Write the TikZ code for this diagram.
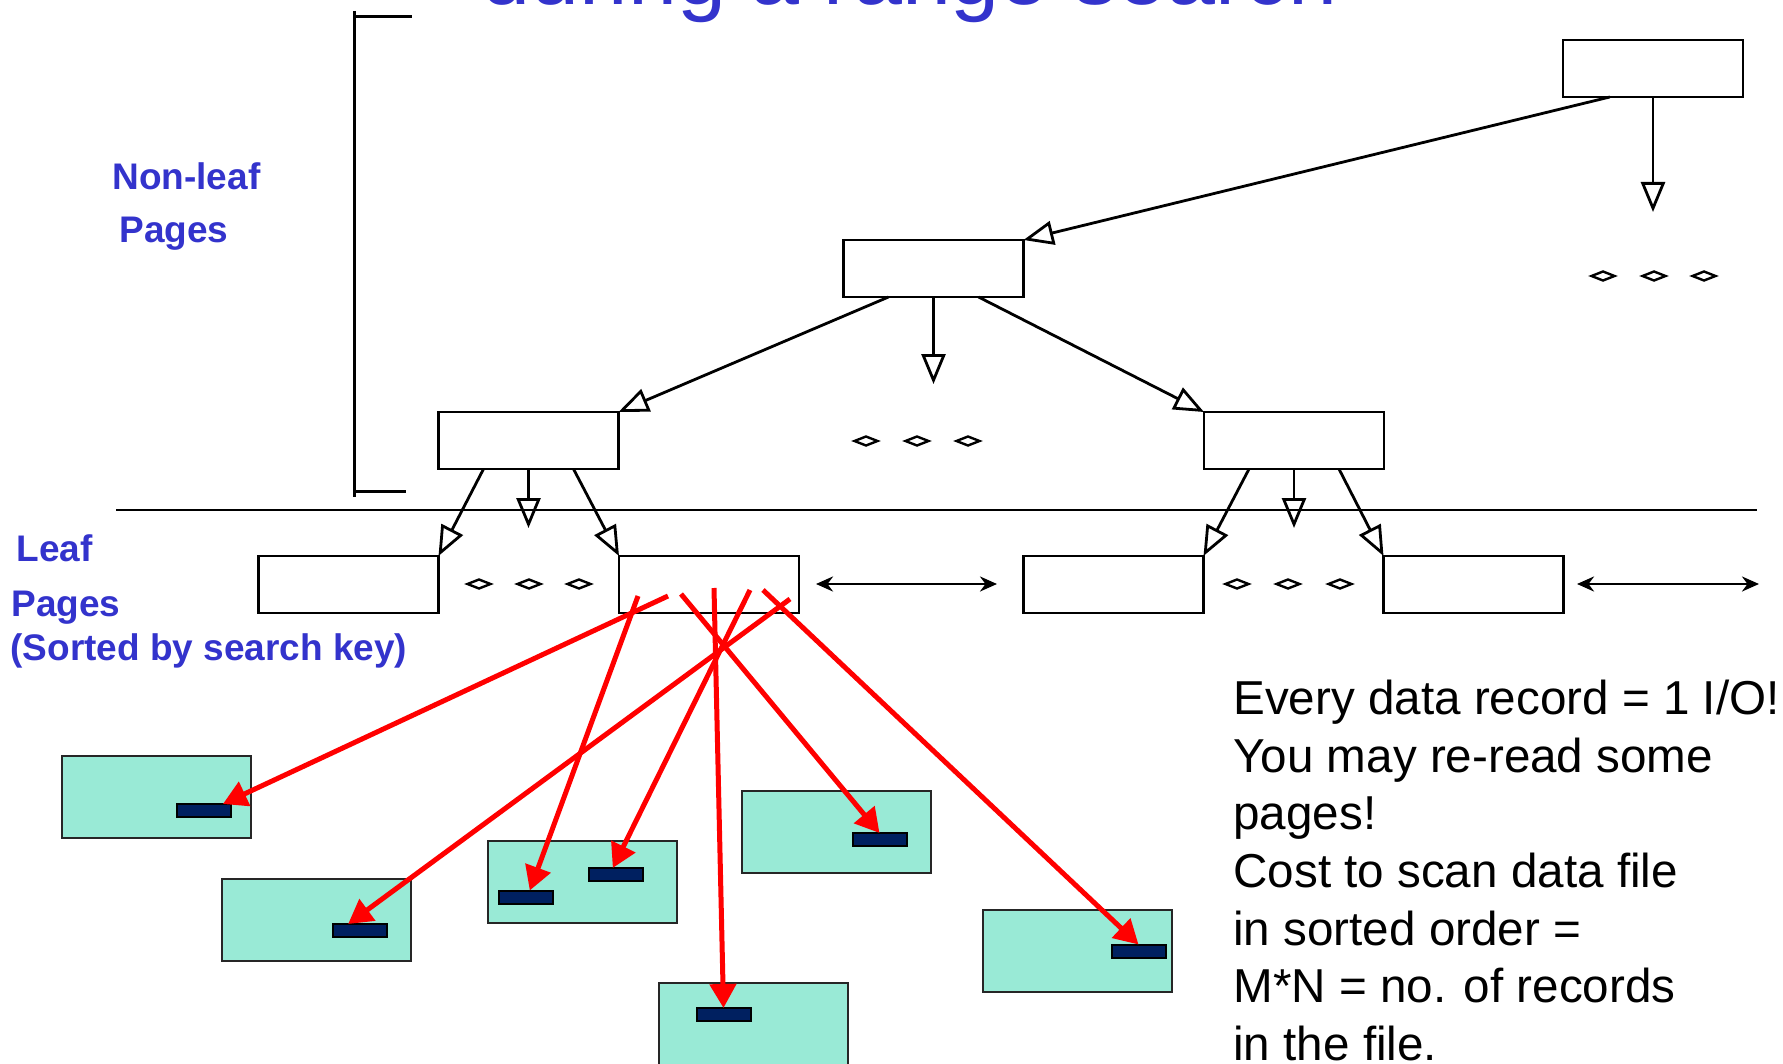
\documentclass[tikz,border=0pt]{standalone}
\usepackage{fontspec}
\setmainfont{Liberation Sans}
\usetikzlibrary{arrows.meta,calc}
\definecolor{labelblue}{RGB}{51,51,204}
\definecolor{pagefill}{RGB}{153,234,214}
\definecolor{recfill}{RGB}{0,32,96}
\tikzset{
  ellip/.pic={\draw[line width=1.2pt] (-11.5,0) -- (0,4.5) -- (11.5,0) -- (0,-4.5) -- cycle;}
}
\begin{document}
\begin{tikzpicture}[x=0.5pt,y=-0.5pt,
  treebox/.style={draw,line width=1.4pt,minimum width=90pt,minimum height=28.5pt,inner sep=0pt,outer sep=0pt},
  treearrow/.style={line width=1.4pt,-{Triangle[open,length=15pt,width=12pt]}},
  treeline/.style={line width=1.4pt},
  datapage/.style={draw=black!85,fill=pagefill,line width=1pt,minimum width=94.5pt,minimum height=41pt,inner sep=0pt,outer sep=0pt},
  record/.style={draw=black,fill=recfill,line width=1pt,minimum width=27pt,minimum height=6.5pt,inner sep=0pt,outer sep=0pt},
  fetch/.style={draw=red,line width=2.5pt,-{Triangle[length=12pt,width=13pt]}},
  sidelabel/.style={text=labelblue,font=\fontsize{18.5pt}{22pt}\selectfont\bfseries,inner sep=0pt,anchor=base west},
  note/.style={font=\fontsize{23.8pt}{28.75pt}\selectfont,inner sep=0pt,anchor=base west},
  link/.style={line width=1.4pt,{Stealth[length=8.5pt,width=7.5pt]}-{Stealth[length=8.5pt,width=7.5pt]}},
]
\useasboundingbox (0,0) rectangle (1783,1064);
\clip (0,0) rectangle (1783,1064);

% title line, cut by the top edge
\node[text=labelblue,font=\fontsize{44pt}{50pt}\selectfont,inner sep=0pt,anchor=base] (title) at (909.5,5) {during a range search};

% bracket marking the non-leaf levels
\draw[line width=1.5pt] (354,11) -- (354,497);
\draw[line width=1.5pt] (354,17) -- (412,17);
\draw[line width=1.5pt] (354,491) -- (406,491);

% separator between index levels and leaf level
\draw[treeline] (116,510) -- (1757,510);

% index pages
\node[treebox] (root) at (1653,68.5) {};
\node[treebox] (mid) at (933.5,268.5) {};
\node[treebox] (inA) at (528.5,440.5) {};
\node[treebox] (inB) at (1294,440.5) {};
% leaf pages
\node[treebox] (leafA) at (348.5,584.5) {};
\node[treebox] (leafB) at (709,584.5) {};
\node[treebox] (leafC) at (1113.5,584.5) {};
\node[treebox] (leafD) at (1473.5,584.5) {};

% free ends of the downward pointers
\coordinate (rootdown) at (1653,212);
\coordinate (middown) at (933.5,384);
\coordinate (inAdown) at (528.5,528);
\coordinate (inBdown) at (1294,528);

% tree pointers
\draw[treearrow] ($(root.south west)!0.26!(root.south east)$) -- (mid.north east);
\draw[treearrow] (root.south) -- (rootdown);
\draw[treearrow] ($(mid.south west)!0.25!(mid.south east)$) -- (inA.north east);
\draw[treearrow] (mid.south) -- (middown);
\draw[treearrow] ($(mid.south west)!0.75!(mid.south east)$) -- (inB.north west);
\draw[treearrow] ($(inA.south west)!0.25!(inA.south east)$) -- (leafA.north east);
\draw[treearrow] (inA.south) -- (inAdown);
\draw[treearrow] ($(inA.south west)!0.75!(inA.south east)$) -- (leafB.north west);
\draw[treearrow] ($(inB.south west)!0.25!(inB.south east)$) -- (leafC.north east);
\draw[treearrow] (inB.south) -- (inBdown);
\draw[treearrow] ($(inB.south west)!0.75!(inB.south east)$) -- (leafD.north west);

% ellipsis marks
\foreach \x in {1603,1654,1704} \pic at (\x,276) {ellip};
\foreach \x in {866,917,968} \pic at (\x,441) {ellip};
\foreach \x in {479,529,579} \pic at (\x,584) {ellip};
\foreach \x in {1237,1288,1340} \pic at (\x,584) {ellip};

% sibling links
\coordinate (linkBa) at (816,584);
\coordinate (linkBb) at (997,584);
\coordinate (linkDa) at (1577,584);
\coordinate (linkDb) at (1759,584);
\draw[link] (linkBa) -- (linkBb);
\draw[link] (linkDa) -- (linkDb);

% data pages
\node[datapage] (pgA) at (156.5,797) {};
\node[datapage] (pgB) at (316.5,920) {};
\node[datapage] (pgC) at (582.5,882) {};
\node[datapage] (pgD) at (753.5,1024) {};
\node[datapage] (pgE) at (836.5,832) {};
\node[datapage] (pgF) at (1077.5,950.5) {};
% data records
\node[record] (recA) at (204,810.5) {};
\node[record] (recB) at (360,930.5) {};
\node[record] (recC) at (526,897) {};
\node[record] (recD) at (615.5,874.5) {};
\node[record] (recE) at (723.5,1014.5) {};
\node[record] (recF) at (879.5,839.5) {};
\node[record] (recG) at (1138.5,951) {};

% record pointers leaving the leaf page
\coordinate (sA) at (668,596);
\coordinate (sC) at (638,596);
\coordinate (sE) at (714,588);
\coordinate (sD) at (750,590);
\coordinate (sB) at (790,599);
\coordinate (sF) at (681,594);
\coordinate (sG) at (763,590);
\draw[fetch] (sA) -- ($(recA.north west)!0.85!(recA.north east)$);
\draw[fetch] (sB) -- ($(recB.north west)!0.28!(recB.north east)$);
\draw[fetch] (sC) -- ($(recC.north west)!0.57!(recC.north east)$);
\draw[fetch] (sD) -- ($(recD.north west)!0.45!(recD.north east)$);
\draw[fetch] (sE) -- (recE.north);
\draw[fetch] (sF) -- (recF.north);
\draw[fetch] (sG) -- (recG.north);

% side labels
\node[sidelabel] (nlA) at (112,190) {Non-leaf};
\node[sidelabel] (nlB) at (119,243) {Pages};
\node[sidelabel] (lfA) at (16,561) {Leaf};
\node[sidelabel] (lfB) at (11,616) {Pages};
\node[sidelabel] (lfC) at (10,660) {(Sorted by search key)};

% cost remark
\node[note] (tA) at (1233,714) {Every data record = 1 I/O!};
\node[note] (tB) at (1233,772) {You may re-read some};
\node[note] (tC) at (1233,829) {pages!};
\node[note] (tD) at (1233,887) {Cost to scan data file};
\node[note] (tE) at (1233,945) {in sorted order =};
\node[note] (tF) at (1233,1002) {M*N = no. of records};
\node[note] (tG) at (1233,1060) {in the file.};
\end{tikzpicture}
\end{document}
